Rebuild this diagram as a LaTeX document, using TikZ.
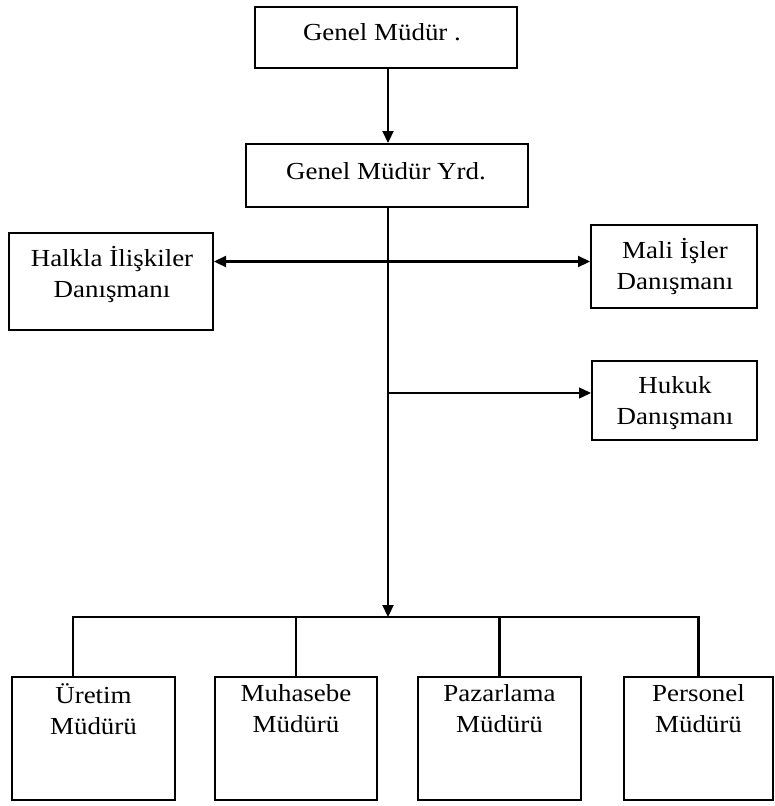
\documentclass[tikz,border=0pt]{standalone}
\usepackage{fontspec}
\setmainfont{Liberation Serif}[FakeStretch=1.1]
\usetikzlibrary{arrows.meta}

\tikzset{
  kutu/.style={draw, line width=2pt, inner sep=0pt},
  yazi/.style={align=center, inner sep=0pt, font=\fontsize{24.5}{31}\selectfont},
  hat/.style={line width=2.2pt},
  ince/.style={line width=1.4pt},
  ok/.style={-{Triangle[length=12pt,width=11pt]}},
  ciftok/.style={{Triangle[length=12pt,width=11pt]}-{Triangle[length=12pt,width=11pt]}},
}

\begin{document}
\begin{tikzpicture}[x=1pt,y=-1pt]
    \useasboundingbox (0,0) rectangle (774,806);
    % ust kademe
    \node[kutu, minimum width=262pt, minimum height=61pt] (gm) at (386,37.5) {};
    \node[yazi] (gmYazi) at (382,32.5) {Genel Müdür .};
    \node[kutu, minimum width=282pt, minimum height=63pt] (yrd) at (387,175.5) {};
    \node[yazi] (yrdYazi) at (386,171.5) {Genel Müdür Yrd.};
    % danismanlar
    \node[kutu, minimum width=204pt, minimum height=97pt] (halkla) at (111,281.5) {};
    \node[yazi] (halklaYazi) at (112,274) {Halkla İlişkiler\\Danışmanı};
    \node[kutu, minimum width=166pt, minimum height=83pt] (mali) at (674,266.5) {};
    \node[yazi] (maliYazi) at (675,266.5) {Mali İşler\\Danışmanı};
    \node[kutu, minimum width=165pt, minimum height=79pt] (hukuk) at (674.5,400.5) {};
    \node[yazi] (hukukYazi) at (675,403) {Hukuk\\Danışmanı};
    % mudurlukler
    \node[kutu, minimum width=163pt, minimum height=123pt] (uretim) at (93.5,738.5) {};
    \node[yazi] (uretimYazi) at (93.5,709) {Üretim\\Müdürü};
    \node[kutu, minimum width=162pt, minimum height=123pt] (muhasebe) at (296,738.5) {};
    \node[yazi] (muhasebeYazi) at (296,709) {Muhasebe\\Müdürü};
    \node[kutu, minimum width=163pt, minimum height=123pt] (pazarlama) at (499.5,738.5) {};
    \node[yazi] (pazarlamaYazi) at (499.5,709) {Pazarlama\\Müdürü};
    \node[kutu, minimum width=149pt, minimum height=123pt] (personel) at (698.5,738.5) {};
    \node[yazi] (personelYazi) at (698.5,709) {Personel\\Müdürü};
    % baglantilar
    \coordinate (kol1) at (388,261.5);
    \coordinate (kol2) at (388,393);
    \coordinate (bus) at (388,617);
    \draw[hat, ok] (gm.south -| bus) -- (yrd.north -| bus);
    \draw[hat, ok] (yrd.south -| bus) -- (bus);
    \draw[hat, ciftok] (halkla.east |- kol1) -- (mali.west |- kol1);
    \draw[ince, ok] (kol2) -- (hukuk.west |- kol2);
    \draw[hat] ([xshift=-20.5pt]uretim.north) |- (personel.north |- bus) -- (personel.north);
    \draw[hat] (muhasebe.north) -- (muhasebe.north |- bus);
    \draw[hat] (pazarlama.north) -- (pazarlama.north |- bus);
\end{tikzpicture}
\end{document}
